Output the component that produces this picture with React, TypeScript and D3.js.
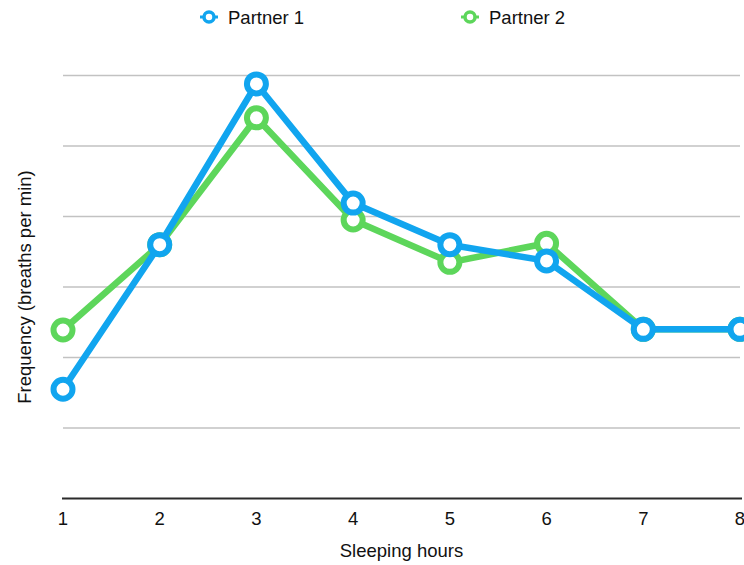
import React from "react";
import * as d3 from "d3";

const hours = [1, 2, 3, 4, 5, 6, 7, 8];
const partner1 = [1.55, 3.6, 5.88, 4.19, 3.6, 3.37, 2.4, 2.4];
const partner2 = [2.39, 3.6, 5.4, 3.95, 3.35, 3.62, 2.4, 2.4];
const gridValues = [1, 2, 3, 4, 5, 6];
const seriesNames = ["Partner 1", "Partner 2"];
const colors = ["#11a5ef", "#5dd65b"];

const W = 744;
const H = 565;
const FONT = "'Liberation Sans', Arial, Helvetica, sans-serif";

export default function App() {
  const x = d3.scaleLinear().domain([1, 8]).range([63, 740]);
  const y = d3.scaleLinear().domain([0, 6]).range([498.5, 75.5]);
  const line = d3
    .line<number>()
    .x((_, i) => x(hours[i]))
    .y((d) => y(d));

  const series = [
    { name: seriesNames[1], values: partner2, color: colors[1] },
    { name: seriesNames[0], values: partner1, color: colors[0] },
  ];

  const legend = [
    { name: seriesNames[0], color: colors[0], x: 209 },
    { name: seriesNames[1], color: colors[1], x: 470 },
  ];

  return (
    <svg
      width={W}
      height={H}
      style={{ position: "absolute", left: 0, top: 0, background: "#fff" }}
      fontFamily={FONT}
    >
      {gridValues.map((g) => (
        <line
          key={g}
          x1={x(1)}
          x2={x(8)}
          y1={y(g)}
          y2={y(g)}
          stroke="#c2c2c2"
          strokeWidth={1.5}
        />
      ))}
      <line x1={62} x2={742} y1={y(0)} y2={y(0)} stroke="#2b2b2b" strokeWidth={2} />
      {hours.map((h) => (
        <text key={h} x={x(h)} y={524.5} fontSize={18.5} textAnchor="middle" fill="#111">
          {h}
        </text>
      ))}
      <text x={401.5} y={557} fontSize={18.5} textAnchor="middle" fill="#111">
        Sleeping hours
      </text>
      <text
        transform={`translate(31,287) rotate(-90)`}
        fontSize={18.5}
        textAnchor="middle"
        fill="#111"
      >
        Frequency (breaths per min)
      </text>
      {series.map((s) => (
        <g key={s.name}>
          <path
            d={line(s.values) || ""}
            fill="none"
            stroke={s.color}
            strokeWidth={6.5}
            strokeLinejoin="round"
          />
          {s.values.map((v, i) => (
            <circle
              key={i}
              cx={x(hours[i])}
              cy={y(v)}
              r={9.5}
              fill="#fff"
              stroke={s.color}
              strokeWidth={6}
            />
          ))}
        </g>
      ))}
      {legend.map((l) => (
        <g key={l.name}>
          <line x1={l.x - 9} x2={l.x + 9} y1={17} y2={17} stroke={l.color} strokeWidth={3} />
          <circle cx={l.x} cy={17} r={5} fill="#fff" stroke={l.color} strokeWidth={3.5} />
          <text x={l.x + 19} y={24} fontSize={18.5} fill="#111">
            {l.name}
          </text>
        </g>
      ))}
    </svg>
  );
}
